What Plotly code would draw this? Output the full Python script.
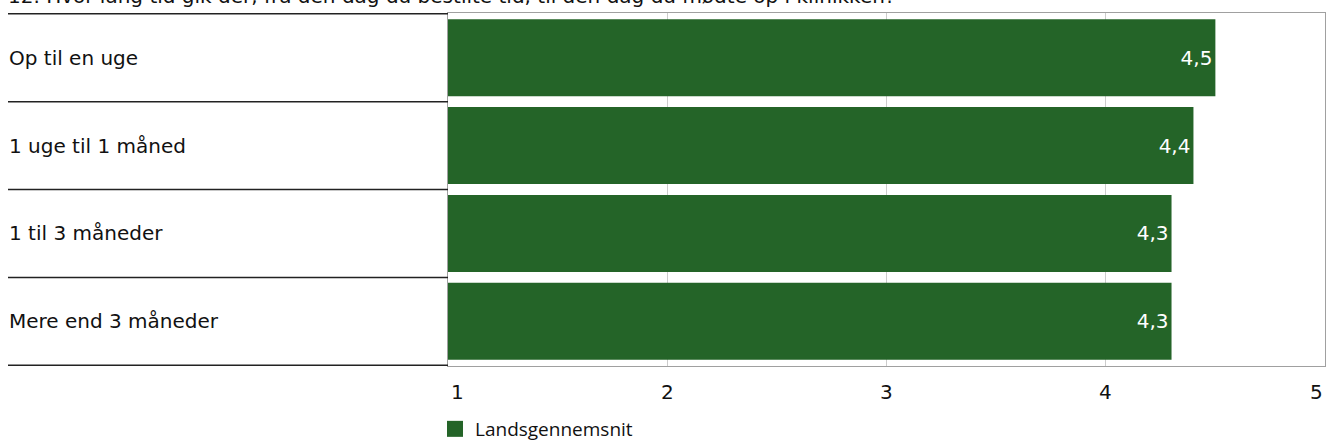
import plotly.graph_objects as go

title = "12. Hvor lang tid gik der, fra den dag du bestilte tid, til den dag du mødte op i klinikken?"
categories = ["Op til en uge", "1 uge til 1 måned", "1 til 3 måneder", "Mere end 3 måneder"]
values = [4.5, 4.4, 4.3, 4.3]
series_name = "Landsgennemsnit"
tick_vals = [1, 2, 3, 4, 5]
tick_text = ["1", "2", "3", "4", "5"]

FONT = "DejaVu Sans, Verdana, sans-serif"
LFONT = "Open Sans, sans-serif"
GREEN = "#246428"
W, H = 1328, 444
L, R, T, B = 448, 3, 13, 78
PW, PH = W - L - R, H - T - B

fig = go.Figure()
fig.add_trace(go.Bar(
    y=categories, x=values, orientation="h", name=series_name,
    marker=dict(color=GREEN, line=dict(width=0)),
    texttemplate="%{x:.1f}", textposition="inside", insidetextanchor="end",
    textfont=dict(color="white", size=20, family=FONT),
    showlegend=False,
))
# legend proxy with a larger square symbol
fig.add_trace(go.Scatter(
    x=[None], y=[None], mode="markers", name=series_name,
    marker=dict(symbol="square", size=18, color=GREEN),
    showlegend=True, hoverinfo="skip",
))

fig.update_layout(
    width=W, height=H,
    margin=dict(l=L, r=R, t=T, b=B, pad=0, autoexpand=False),
    paper_bgcolor="white", plot_bgcolor="white",
    separators=",.",
    bargap=0.125,
    font=dict(family=FONT, size=20, color="#111"),
    showlegend=True,
    legend=dict(orientation="h", x=-13 / PW, xanchor="left",
                y=-(429 - (T + PH)) / PH, yanchor="middle",
                font=dict(size=19, family=LFONT, color="#111"),
                itemsizing="trace", bgcolor="rgba(0,0,0,0)"),
    xaxis=dict(range=[1, 5], tickvals=tick_vals, showticklabels=False,
               showgrid=True, gridcolor="#cccccc", gridwidth=1,
               showline=True, linecolor="#a0a0a0", linewidth=1, mirror=True,
               ticks="", zeroline=False, automargin=False),
    yaxis=dict(autorange="reversed", showticklabels=False, showgrid=False,
               showline=True, linecolor="#a0a0a0", linewidth=1, mirror=True,
               ticks="", zeroline=False, automargin=False),
)

# x tick labels: first left-aligned, last right-aligned, others centred
for i, (v, t) in enumerate(zip(tick_vals, tick_text)):
    if i == 0:
        anchor, shift = "left", 1
    elif i == len(tick_vals) - 1:
        anchor, shift = "right", 0
    else:
        anchor, shift = "center", 0
    fig.add_annotation(x=v, xref="x", xanchor=anchor, xshift=shift,
                       y=0, yref="paper", yanchor="middle", yshift=-26,
                       text=t, showarrow=False,
                       font=dict(size=20, family=FONT, color="#111"))

# category labels, left aligned
for c in categories:
    fig.add_annotation(x=0, xref="paper", xshift=-L + 7, xanchor="left",
                       y=c, yref="y", text=c, showarrow=False,
                       font=dict(size=20, family=FONT, color="#111"))

# separator lines between category rows
n = len(categories)
for k in range(n + 1):
    fig.add_shape(type="line", xref="paper", yref="y",
                  x0=-(L - 8) / PW, x1=0, y0=k - 0.5, y1=k - 0.5,
                  line=dict(color="#222", width=1.5))

# title, partially cut off at top as in reference
fig.add_annotation(x=0, xref="paper", xshift=-L + 6, xanchor="left",
                   y=1, yref="paper", yanchor="bottom", yshift=3,
                   text=title, showarrow=False,
                   font=dict(size=20, family=FONT, color="#111"))

fig.write_html("out.html", config={"displayModeBar": False},
               post_script="document.body.style.margin='0';")
